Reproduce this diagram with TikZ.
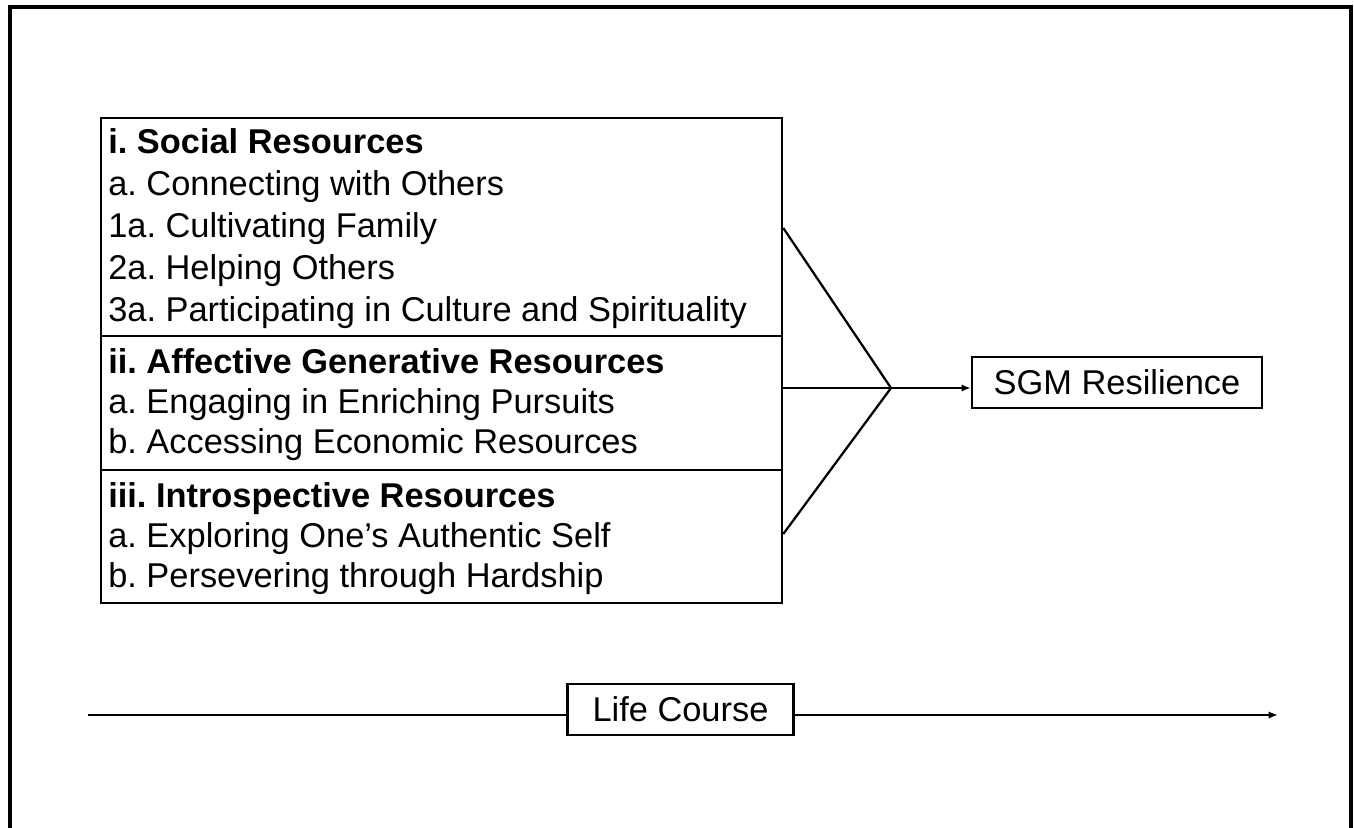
\documentclass[tikz,border=0pt]{standalone}
\usepackage{fontspec}
\setmainfont{Liberation Sans}
\usetikzlibrary{arrows.meta}
\frenchspacing
\begin{document}
\begin{tikzpicture}[x=0.75pt,y=-0.75pt,
  every node/.style={font=\fontsize{25.8}{31}\selectfont\frenchspacing},
  sect/.style={draw,line width=1.7pt,minimum width=681*0.75pt,inner sep=0pt,anchor=north west},
  txt/.style={anchor=base west,inner sep=0pt},
  hdr/.style={txt,font=\fontsize{25.8}{31}\selectfont\frenchspacing\bfseries},
  lbox/.style={draw,line width=1.7pt,inner sep=0pt},
  conn/.style={line width=1.7pt},
  tip/.style={-{Latex[length=7pt,width=5.5pt]}}]
\useasboundingbox (0,0) rectangle (1354,828);
% outer frame (bottom edge lies outside the picture)
\draw[line width=2.4pt] (10,840) -- (10,7) -- (1351,7) -- (1351,840);
% sections
\node[sect,minimum height=218*0.75pt] (s1) at (100,117) {};
\node[sect,minimum height=134*0.75pt] (s2) at (100,335) {};
\node[sect,minimum height=133*0.75pt] (s3) at (100,469) {};
% texts
\node[hdr] (t11) at (108,153) {i. Social Resources};
\node[txt] (t12) at (108,195) {a. Connecting with Others};
\node[txt] (t13) at (108,237) {1a. Cultivating Family};
\node[txt] (t14) at (108,279) {2a. Helping Others};
\node[txt] (t15) at (108,321) {3a. Participating in Culture and Spirituality};
\node[hdr] (t21) at (108,373) {ii. Affective Generative Resources};
\node[txt] (t22) at (108,413) {a. Engaging in Enriching Pursuits};
\node[txt] (t23) at (108,453) {b. Accessing Economic Resources};
\node[hdr] (t31) at (108,507) {iii. Introspective Resources};
\node[txt] (t32) at (108,547) {a. Exploring One’s Authentic Self};
\node[txt] (t33) at (108,587) {b. Persevering through Hardship};
% outcome
\node[lbox,minimum width=290*0.75pt,minimum height=51*0.75pt] (sgm) at (1117,382.5) {SGM Resilience};
\coordinate (hub) at (891,388);
\coordinate (f1) at (s1.east |- 0,228);
\coordinate (f2) at (s2.east |- 0,388);
\coordinate (f3) at (s3.east |- 0,534);
\draw[conn] (f1) -- (hub);
\draw[conn] (f2) -- (hub);
\draw[conn] (f3) -- (hub);
\draw[conn,tip] (hub) -- (sgm.west |- hub);
% life course
\node[lbox,minimum width=226*0.75pt,minimum height=51*0.75pt] (lc) at (680.5,709.5) {Life Course};
\coordinate (lcs) at (88,715);
\coordinate (lce) at (1278,715);
\draw[conn] (lcs) -- (lc.west |- lcs);
\draw[conn,tip] (lc.east |- lcs) -- (lce);
\end{tikzpicture}
\end{document}
